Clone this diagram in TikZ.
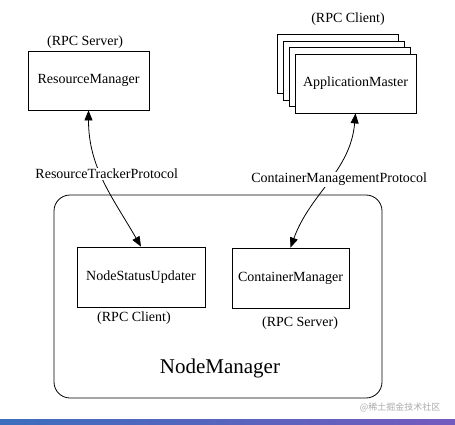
\documentclass[tikz,border=0pt]{standalone}
\usepackage{fontspec}
\setmainfont{Liberation Serif}
\newfontfamily\cjk{Noto Sans CJK SC}
\usetikzlibrary{arrows.meta}
\definecolor{markgray}{RGB}{170,170,170}
\definecolor{barblue}{RGB}{60,110,190}
\definecolor{barviolet}{RGB}{115,90,190}

\begin{document}
\begin{tikzpicture}[x=1pt,y=1pt,thin,
    box/.style={draw,line width=0.8pt,fill=white,minimum width=121pt,minimum height=59pt,inner sep=0pt},
    lbl/.style={font=\fontsize{14}{16}\selectfont,inner sep=1pt},
    proto/.style={lbl,fill=white},
    link/.style={line width=0.8pt,{Triangle[length=10pt,width=8pt]}-{Triangle[length=10pt,width=8pt]}}]

        \useasboundingbox (0,0) rectangle (455,424);

        % ResourceManager side
        \node[box] (rm) at (88.5,343.5) {};
        \node[lbl] (rmtext) at (88.5,343.5) {ResourceManager};
        \node[lbl] (rmrole) at (85,382) {(RPC Server)};

        % stacked ApplicationMasters
        \foreach \k in {3,2,1} {
          \node[box] (am\k) at (355.5-6*\k,340.5+6.5*\k) {};
        }
        \node[box] (am) at (355.5,340.5) {};
        \node[lbl] (amtext) at (355.5,340.5) {ApplicationMaster};
        \node[lbl] (amrole) at (348,405) {(RPC Client)};

        % NodeManager
        \node[draw,line width=0.8pt,rounded corners=16pt,minimum width=328pt,minimum height=203pt] (nm) at (218,127.5) {};
        \node[font=\fontsize{21}{24}\selectfont] (nmtext) at (220,56) {NodeManager};

        \node[box,minimum width=128pt,minimum height=60pt] (nsu) at (141,147) {};
        \node[lbl] (nsutext) at (141,147) {NodeStatusUpdater};
        \node[lbl] (nsurole) at (134,106) {(RPC Client)};

        \node[box,minimum width=117pt,minimum height=60pt] (cm) at (290.5,146) {};
        \node[lbl] (cmtext) at (290.5,146) {ContainerManager};
        \node[lbl] (cmrole) at (300,101) {(RPC Server)};

        % protocols
        \draw[link] (nsu.north) to[out=120,in=-90]
              node[proto,pos=0.56,xshift=6pt] (rtp) {ResourceTrackerProtocol} (rm.south);
        \draw[link] (cm.north) to[out=70,in=-95]
              node[proto,pos=0.52,xshift=9pt] (cmp) {ContainerManagementProtocol} (am.south);

        % watermark and bottom bar
        \node[font=\cjk\fontsize{9}{10}\selectfont,text=markgray,anchor=east] (mark) at (444,17) {@稀土掘金技术社区};
        \shade[left color=barblue,right color=barviolet] (0,0) rectangle (455,5);
\end{tikzpicture}
\end{document}
